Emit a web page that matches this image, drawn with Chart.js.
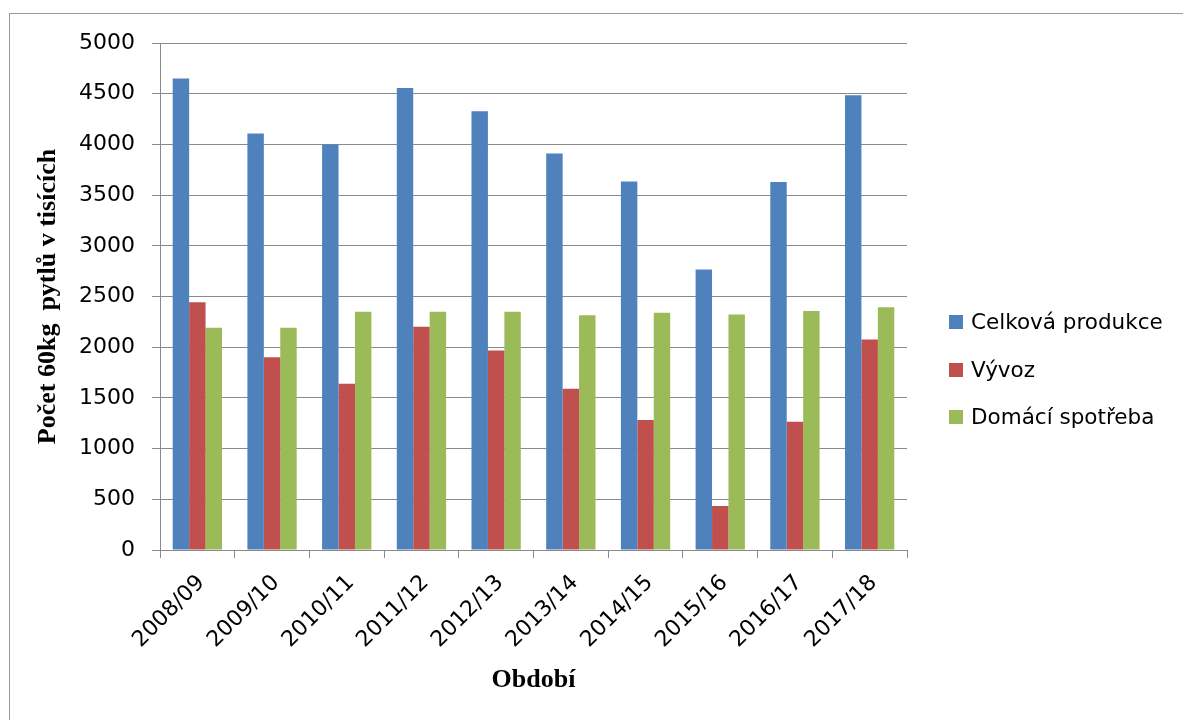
<!DOCTYPE html>
<html>
<head>
<meta charset="utf-8">
<script src="https://cdn.jsdelivr.net/npm/chart.js@4"></script>
<style>
  html, body { margin: 0; padding: 0; background: #fff; overflow: hidden; }
  #wrap { position: relative; width: 1183px; height: 720px; }
  #frame { position: absolute; left: 9px; top: 13px; width: 1180px; height: 720px; border: 1px solid #9a9a9a; box-sizing: border-box; }
  canvas { position: absolute; left: 0; top: 0; }
</style>
</head>
<body>
<div id="wrap">
  <div id="frame"></div>
  <canvas id="c" width="1183" height="720"></canvas>
</div>
<script>
const categories = ["2008/09","2009/10","2010/11","2011/12","2012/13","2013/14","2014/15","2015/16","2016/17","2017/18"];
const seriesNames = ["Celková produkce", "Vývoz", "Domácí spotřeba"];
const celkovaProdukce = [4650, 4107, 3998, 4557, 4327, 3910, 3634, 2766, 3630, 4485];
const vyvoz = [2444, 1902, 1639, 2201, 1968, 1590, 1281, 434, 1265, 2076];
const domaciSpotreba = [2191, 2191, 2349, 2349, 2349, 2316, 2339, 2323, 2356, 2395];
const yTitle = "Počet 60kg  pytlů v tisících";
const xTitle = "Období";

const colors = ["#4F81BD", "#C0504D", "#9BBB59"];

const legendPlugin = {
  id: 'sideLegend',
  afterDraw(chart) {
    const ctx = chart.ctx;
    ctx.save();
    ctx.font = '21.5px "DejaVu Sans"';
    ctx.textBaseline = 'middle';
    ctx.textAlign = 'left';
    const ys = [322, 370, 417];
    chart.data.datasets.forEach((ds, i) => {
      ctx.fillStyle = ds.backgroundColor;
      ctx.fillRect(949, ys[i] - 7, 14, 14);
      ctx.fillStyle = '#000';
      ctx.fillText(ds.label, 971, ys[i] + 1);
    });
    ctx.restore();
  }
};

new Chart(document.getElementById('c'), {
  type: 'bar',
  data: {
    labels: categories,
    datasets: [
      { label: seriesNames[0], data: celkovaProdukce, backgroundColor: colors[0] },
      { label: seriesNames[1], data: vyvoz, backgroundColor: colors[1] },
      { label: seriesNames[2], data: domaciSpotreba, backgroundColor: colors[2] }
    ]
  },
  options: {
    responsive: false,
    animation: false,
    devicePixelRatio: 1,
    layout: { padding: { left: 0, top: 43, right: 276, bottom: 0 } },
    datasets: { bar: { categoryPercentage: 0.66, barPercentage: 1.0 } },
    plugins: { legend: { display: false }, tooltip: { enabled: false } },
    scales: {
      x: {
        offset: true,
        grid: { display: true, drawOnChartArea: false, drawTicks: true, tickLength: 8, color: '#8a8a8a', offset: true },
        border: { display: true, color: '#8a8a8a', width: 1 },
        ticks: { color: '#000', font: { family: 'DejaVu Sans', size: 22 }, minRotation: 45, maxRotation: 45, padding: 12, labelOffset: 4, autoSkip: false },
        title: { display: true, text: xTitle, color: '#000', font: { family: 'Liberation Serif', size: 26, weight: 'bold' }, padding: { top: 0, bottom: 24 } },
        afterFit(scale) { scale.height = 170; }
      },
      y: {
        min: 0, max: 5000,
        grid: { color: '#8a8a8a', lineWidth: 1, tickLength: 8 },
        border: { display: true, color: '#8a8a8a', width: 1 },
        ticks: { stepSize: 500, color: '#000', font: { family: 'DejaVu Sans', size: 22 }, padding: 17,
                 callback: (v) => String(v) },
        title: { display: true, text: yTitle, color: '#000', font: { family: 'Liberation Serif', size: 26, weight: 'bold' }, padding: { top: 33, bottom: 0 } },
        afterFit(scale) { scale.width = 160; }
      }
    }
  },
  plugins: [legendPlugin]
});
</script>
</body>
</html>
